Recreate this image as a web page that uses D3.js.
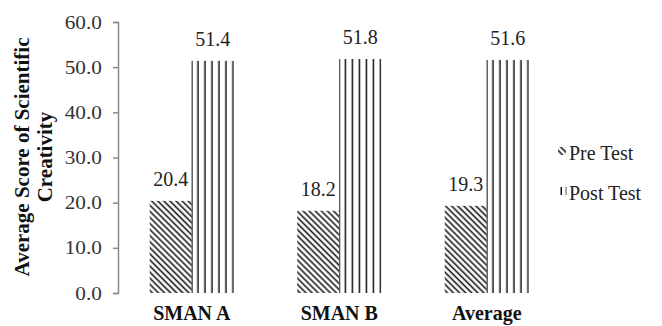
<!DOCTYPE html>
<html>
<head>
<meta charset="utf-8">
<script src="https://cdn.jsdelivr.net/npm/d3@7"></script>
</head>
<body style="margin:0;background:#fff">
<div id="chart"></div>
<script>
const categories = ["SMAN A", "SMAN B", "Average"];
const seriesNames = ["Pre Test", "Post Test"];
const preTest = [20.4, 18.2, 19.3];
const postTest = [51.4, 51.8, 51.6];
const yTicks = [0, 10, 20, 30, 40, 50, 60];
const yTitleLines = ["Average Score of Scientific", "Creativity"];

const W = 662, H = 326;
const FONT = "Liberation Serif";
const svg = d3.select("#chart").append("svg").attr("width", W).attr("height", H)
  .attr("font-family", FONT).style("display", "block");
const defs = svg.append("defs");

const x0 = d3.scaleBand().domain(categories).range([118, 560.5]).paddingInner(0.43).paddingOuter(0.215);
const x1 = d3.scaleBand().domain(seriesNames).range([0, x0.bandwidth()]);
const y = d3.scaleLinear().domain([0, 60]).range([293, 22]);

function hatchPattern(id, ox) {
  const p = defs.append("pattern").attr("id", id)
    .attr("patternUnits", "userSpaceOnUse")
    .attr("width", 4.3).attr("height", 10)
    .attr("patternTransform", `translate(${ox},0) rotate(-45)`);
  p.append("rect").attr("width", 4.3).attr("height", 10).attr("fill", "#fff");
  p.append("line").attr("x1", 1.2).attr("x2", 1.2).attr("y1", 0).attr("y2", 10)
    .attr("stroke", "#1a1a1a").attr("stroke-width", 1.6);
}
function vertPattern(id, ox) {
  const p = defs.append("pattern").attr("id", id)
    .attr("patternUnits", "userSpaceOnUse")
    .attr("width", 7).attr("height", 10)
    .attr("x", ox);
  p.append("rect").attr("width", 7).attr("height", 10).attr("fill", "#fff");
  p.append("rect").attr("x", 5.5).attr("width", 2).attr("height", 10).attr("fill", "#111");
}

const data = categories.map((c, i) => ({cat: c, values: [
  {s: "Pre Test", v: preTest[i]}, {s: "Post Test", v: postTest[i]}
]}));

const g = svg.append("g");
data.forEach((d, i) => {
  d.values.forEach((e, j) => {
    const bx = x0(d.cat) + x1(e.s);
    const id = `pat-${i}-${j}`;
    if (j === 0) hatchPattern(id, bx); else vertPattern(id, bx);
    g.append("rect")
      .attr("x", bx).attr("y", y(e.v))
      .attr("width", x1.bandwidth()).attr("height", y(0) - y(e.v))
      .attr("fill", `url(#${id})`);
    if (j === 1) {
      g.append("line").attr("x1", bx + 0.5).attr("x2", bx + 0.5)
        .attr("y1", y(e.v)).attr("y2", y(0))
        .attr("stroke", "#333").attr("stroke-width", 1);
    }
    g.append("text")
      .attr("x", bx + x1.bandwidth() / 2).attr("y", y(e.v) - 15)
      .attr("text-anchor", "middle")
      .attr("font-family", FONT).attr("font-size", 20).attr("fill", "#222")
      .text(e.v.toFixed(1));
  });
});

// y axis
const yAxis = d3.axisLeft(y).tickValues(yTicks).tickFormat(d3.format(".1f")).tickSize(5).tickPadding(10);
const ya = svg.append("g").attr("transform", "translate(118,0)").call(yAxis);
ya.attr("font-family", FONT).attr("font-size", 19);
ya.select(".domain").attr("stroke", "#8a8a8a").attr("stroke-width", 1.5);
ya.selectAll(".tick line").attr("stroke", "#8a8a8a").attr("stroke-width", 1.5);
ya.selectAll(".tick text").attr("font-family", FONT).attr("font-size", 19).attr("fill", "#333")
  .attr("transform", "scale(1.12,1)").attr("x", -15 / 1.12 - 1);

// x category labels
svg.append("g").selectAll("text").data(categories).join("text")
  .attr("x", d => x0(d) + x0.bandwidth() / 2).attr("y", 320)
  .attr("text-anchor", "middle")
  .attr("font-family", FONT).attr("font-size", 20).attr("font-weight", "bold").attr("fill", "#111")
  .text(d => d);

// y title
const yt = svg.append("text")
  .attr("transform", "translate(29,157) rotate(-90)")
  .attr("text-anchor", "middle")
  .attr("font-family", FONT).attr("font-size", 21).attr("font-weight", "bold").attr("fill", "#111");
yTitleLines.forEach((l, i) => {
  yt.append("tspan").attr("x", 0).attr("dy", i === 0 ? 0 : 23).text(l);
});

// legend
const legend = svg.append("g");
const legY = [153, 193];
seriesNames.forEach((s, i) => {
  const sx = 558, sy = legY[i] - 6;
  const id = `leg-${i}`;
  if (i === 0) hatchPattern(id, sx); else vertPattern(id, sx - 3);
  legend.append("rect").attr("x", sx).attr("y", sy).attr("width", 8).attr("height", 8)
    .attr("fill", `url(#${id})`);
  if (i === 1) {
    legend.append("line").attr("x1", sx + 8).attr("x2", sx + 8).attr("y1", sy).attr("y2", sy + 8)
      .attr("stroke", "#555").attr("stroke-width", 1);
  }
  legend.append("text").attr("x", 569).attr("y", legY[i] + 7)
    .attr("font-family", FONT).attr("font-size", 20).attr("fill", "#222")
    .text(s);
});
</script>
</body>
</html>
